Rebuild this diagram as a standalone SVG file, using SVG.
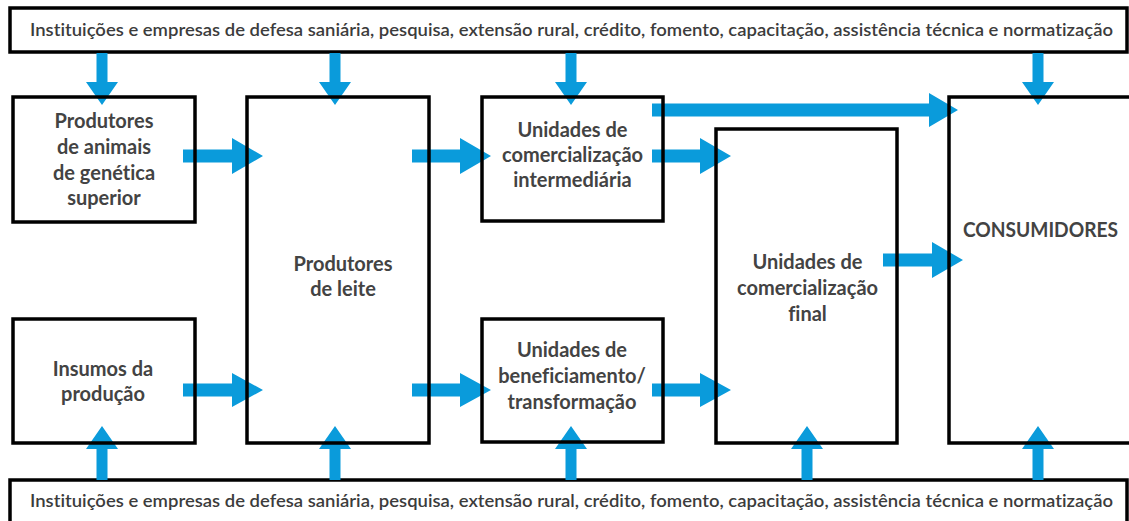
<svg xmlns="http://www.w3.org/2000/svg" width="1129" height="521" viewBox="0 0 1129 521">
<style>
.box{fill:none;stroke:#000;stroke-width:3.5}
.ban{fill:#fff;stroke:#000;stroke-width:3.5}
.arr{fill:#0a9bdb}
.t{font-family:Lato,"Open Sans","DejaVu Sans",sans-serif;font-weight:bold;font-size:20px;fill:#434343;text-anchor:middle;font-variant-ligatures:none}
.bt{font-family:Lato,"Open Sans","DejaVu Sans",sans-serif;font-weight:600;font-size:17px;fill:#3c3c3c;font-variant-ligatures:none}
</style>
<rect width="1129" height="521" fill="#fff"/>
<g id="banner-top">
<rect class="ban" x="10" y="8" width="1117" height="44"/>
<text class="bt" x="30" y="36" textLength="1083" lengthAdjust="spacingAndGlyphs">Instituições e empresas de defesa saniária, pesquisa, extensão rural, crédito, fomento, capacitação, assistência técnica e normatização</text>
</g>
<g id="banner-bottom">
<rect class="ban" x="10" y="480" width="1117" height="60"/>
<text class="bt" x="30" y="507" textLength="1083" lengthAdjust="spacingAndGlyphs">Instituições e empresas de defesa saniária, pesquisa, extensão rural, crédito, fomento, capacitação, assistência técnica e normatização</text>
</g>
<g id="connectors">
<polygon class="arr" points="96.5,53 107.5,53 107.5,82 118,82 102,105 86,82 96.5,82"/>
<polygon class="arr" points="329.5,53 340.5,53 340.5,82 351,82 335,105 319,82 329.5,82"/>
<polygon class="arr" points="565.5,53 576.5,53 576.5,82 587,82 571,105 555,82 565.5,82"/>
<polygon class="arr" points="1032.5,53 1043.5,53 1043.5,82 1054,82 1038,105 1022,82 1032.5,82"/>
<polygon class="arr" points="96.5,480 107.5,480 107.5,449 118,449 102,426 86,449 96.5,449"/>
<polygon class="arr" points="329.5,480 340.5,480 340.5,449 351,449 335,426 319,449 329.5,449"/>
<polygon class="arr" points="565.5,480 576.5,480 576.5,449 587,449 571,426 555,449 565.5,449"/>
<polygon class="arr" points="801.5,480 812.5,480 812.5,449 823,449 807,426 791,449 801.5,449"/>
<polygon class="arr" points="1032.5,480 1043.5,480 1043.5,449 1054,449 1038,426 1022,449 1032.5,449"/>
<polygon class="arr" points="183,149.5 232,149.5 232,138 263,156 232,174 232,162.5 183,162.5"/>
<polygon class="arr" points="412,149.5 460,149.5 460,138 491,156 460,174 460,162.5 412,162.5"/>
<polygon class="arr" points="652,149.5 700,149.5 700,138 731,156 700,174 700,162.5 652,162.5"/>
<polygon class="arr" points="652,103.5 929,103.5 929,93 958,110 929,127 929,116.5 652,116.5"/>
<polygon class="arr" points="183,383.5 232,383.5 232,373 263,390 232,407 232,396.5 183,396.5"/>
<polygon class="arr" points="412,383.5 460,383.5 460,373 491,390 460,407 460,396.5 412,396.5"/>
<polygon class="arr" points="652,383.5 700,383.5 700,373 731,390 700,407 700,396.5 652,396.5"/>
<polygon class="arr" points="883,253.5 932,253.5 932,242 963,260 932,278 932,266.5 883,266.5"/>
</g>
<g id="produtores-animais">
<rect class="box" x="13" y="97" width="182" height="125"/>
<text class="t" x="104" y="128">Produtores</text>
<text class="t" x="104" y="154">de animais</text>
<text class="t" x="104" y="180">de genética</text>
<text class="t" x="104" y="205">superior</text>
</g>
<g id="insumos">
<rect class="box" x="13" y="319" width="182" height="124"/>
<text class="t" x="103" y="376">Insumos da</text>
<text class="t" x="103" y="401">produção</text>
</g>
<g id="produtores-leite">
<rect class="box" x="247" y="97" width="182" height="346"/>
<text class="t" x="343" y="271">Produtores</text>
<text class="t" x="343" y="296">de leite</text>
</g>
<g id="comercializacao-intermediaria">
<rect class="box" x="482" y="97" width="181" height="124"/>
<text class="t" x="572.5" y="137">Unidades de</text>
<text class="t" x="572.5" y="162">comercialização</text>
<text class="t" x="572.5" y="187">intermediária</text>
</g>
<g id="beneficiamento">
<rect class="box" x="482" y="319" width="181" height="123"/>
<text class="t" x="572" y="357">Unidades de</text>
<text class="t" x="572" y="383">beneficiamento/</text>
<text class="t" x="572" y="409">transformação</text>
</g>
<g id="comercializacao-final">
<rect class="box" x="716" y="129" width="181" height="314"/>
<text class="t" x="807.5" y="269">Unidades de</text>
<text class="t" x="807.5" y="295">comercialização</text>
<text class="t" x="807.5" y="321">final</text>
</g>
<g id="consumidores">
<rect class="box" x="949" y="97" width="200" height="346"/>
<text class="t" x="1040.5" y="237" textLength="155" lengthAdjust="spacingAndGlyphs">CONSUMIDORES</text>
</g>
</svg>
